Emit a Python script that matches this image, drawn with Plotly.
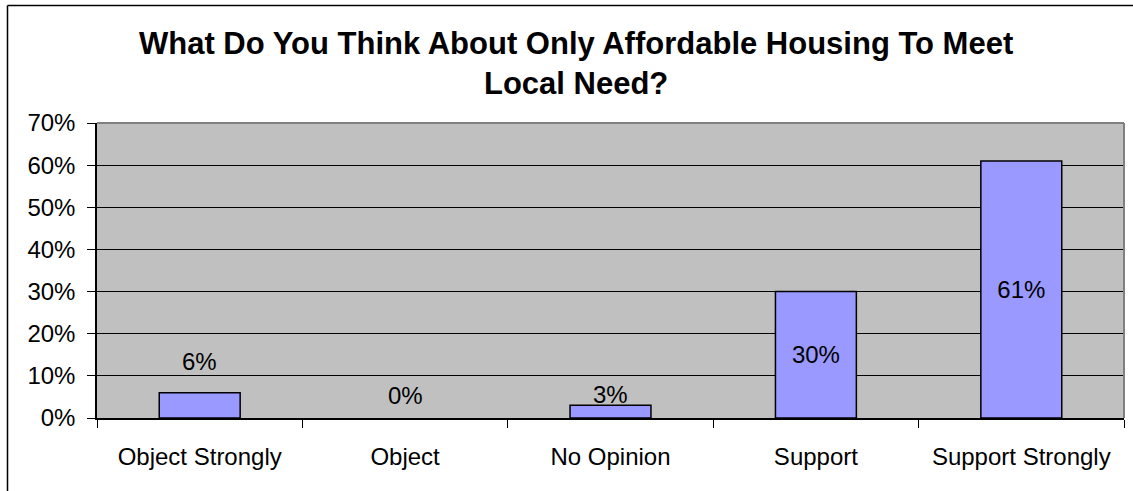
import plotly.graph_objects as go

# Survey responses
categories = ["Object Strongly", "Object", "No Opinion", "Support", "Support Strongly"]
percentages = [6, 0, 3, 30, 61]
y_ticks = [0, 10, 20, 30, 40, 50, 60, 70]
y_tick_labels = [f"{v}%" for v in y_ticks]

title_text = "What Do You Think About Only Affordable Housing To Meet<br>Local Need?"

W, H = 1133, 491
ML, MR, MT, MB = 97, 9, 123, 73
plot_w = W - ML - MR
plot_h = H - MT - MB

FONT = "Liberation Sans, Arial, sans-serif"


def px_to_paper_x(px):
    return (px - ML) / plot_w


def px_to_paper_y(py):
    return (H - MB - py) / plot_h


# Bars tall enough carry their label centred inside; short bars get it above
inside_threshold = 15
textpos = ["inside" if v >= inside_threshold else "none" for v in percentages]
# an empty bar draws no outline
outline_widths = [1.5 if v > 0 else 0 for v in percentages]

fig = go.Figure(
    go.Bar(
        x=categories,
        y=percentages,
        text=[f"{v}%" for v in percentages],
        textposition=textpos,
        insidetextanchor="middle",
        textangle=0,
        textfont=dict(family=FONT, size=24, color="black"),
        marker=dict(color="#9999FF", line=dict(color="black", width=outline_widths)),
        hoverinfo="skip",
    )
)

# Labels above the short bars (pixel lift above each bar top)
outside_lift = {"Object Strongly": 31, "Object": 23, "No Opinion": 11}
annotations = []
for cat, v in zip(categories, percentages):
    if v < inside_threshold:
        annotations.append(dict(
            x=cat, y=v, xref="x", yref="y",
            text=f"{v}%", showarrow=False,
            yanchor="middle", yshift=outside_lift.get(cat, 20),
            font=dict(family=FONT, size=24, color="black"),
        ))

# Two-line bold title
annotations.append(dict(
    x=px_to_paper_x(576), y=px_to_paper_y(63), xref="paper", yref="paper",
    xanchor="center", yanchor="middle",
    text=f"<b>{title_text}</b>", showarrow=False,
    font=dict(family=FONT, size=31, color="black"),
))

shapes = [
    # chart frame: left and top edges
    dict(type="line", xref="paper", yref="paper",
         x0=px_to_paper_x(7.5), x1=px_to_paper_x(7.5),
         y0=px_to_paper_y(H + 5), y1=px_to_paper_y(5.5),
         line=dict(color="black", width=1.5)),
    dict(type="line", xref="paper", yref="paper",
         x0=px_to_paper_x(7.5), x1=px_to_paper_x(W),
         y0=px_to_paper_y(5.5), y1=px_to_paper_y(5.5),
         line=dict(color="black", width=1.5)),
    # grey plot border on top and right
    dict(type="line", xref="paper", yref="paper", x0=0, x1=1, y0=1, y1=1,
         line=dict(color="#808080", width=2)),
    dict(type="line", xref="paper", yref="paper", x0=1, x1=1, y0=0, y1=1,
         line=dict(color="#808080", width=2)),
]

fig.update_layout(
    width=W, height=H,
    margin=dict(l=ML, r=MR, t=MT, b=MB, pad=0),
    paper_bgcolor="white",
    plot_bgcolor="#C0C0C0",
    bargap=0.606,
    showlegend=False,
    annotations=annotations,
    shapes=shapes,
)

fig.update_xaxes(
    type="category",
    showgrid=False,
    showline=True, linecolor="black", linewidth=1.5,
    ticks="outside", tickson="boundaries", ticklen=8, tickcolor="black", tickwidth=1,
    ticklabelstandoff=16,
    tickfont=dict(family=FONT, size=24, color="black"),
)

fig.update_yaxes(
    range=[0, 70],
    tickvals=y_ticks, ticktext=y_tick_labels,
    showgrid=True, gridcolor="black", gridwidth=1,
    zeroline=False,
    showline=True, linecolor="black", linewidth=1.5,
    ticks="outside", ticklen=8, tickcolor="black", tickwidth=1,
    ticklabelstandoff=7,
    tickfont=dict(family=FONT, size=24, color="black"),
)

fig.write_html("out.html")
